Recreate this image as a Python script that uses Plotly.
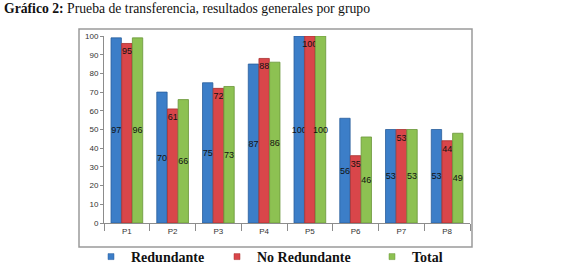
import plotly.graph_objects as go

categories = ["P1", "P2", "P3", "P4", "P5", "P6", "P7", "P8"]
redundante = [99, 70, 75, 85, 100, 56, 50, 50]
no_redundante = [96, 61, 72, 88, 100, 36, 50, 44]
total = [99, 66, 73, 86, 100, 46, 50, 48]
lbl_redundante = ["97", "70", "75", "87", "100", "56", "53", "53"]
lbl_no_redundante = ["95", "61", "72", "88", "100", "35", "53", "44"]
lbl_total = ["96", "66", "73", "86", "100", "46", "53", "49"]
y_ticks = list(range(0, 101, 10))

W, H = 565, 266
L, R, T, B = 104, 95, 36, 43
pw, ph = W - L - R, H - T - B
SERIF = "Liberation Serif"

def px2x(px):
    return (px - L) / pw

def py2y(py):
    return (H - B - py) / ph

fig = go.Figure()
specs = [
    ("Redundante", redundante, lbl_redundante, "#3c7ec8", "#2a5e9c", "middle", "legend"),
    ("No Redundante", no_redundante, lbl_no_redundante, "#d9464a", "#a8302f", "end", "legend2"),
    ("Total", total, lbl_total, "#8dc152", "#6a9638", "middle", "legend3"),
]
for name, vals, lbls, col, lcol, anchor, lg in specs:
    fig.add_trace(go.Bar(
        x=categories, y=vals, name=name, text=lbls,
        textposition="inside", insidetextanchor=anchor, textangle=0,
        constraintext="none", cliponaxis=False,
        insidetextfont=dict(family="Liberation Sans", size=9, color="#111111"),
        marker=dict(color=col, line=dict(color=lcol, width=0.8)),
        showlegend=False,
    ))
    # legend entry with a small square key, as in the reference
    fig.add_trace(go.Scatter(
        x=[None], y=[None], mode="markers", name=name,
        marker=dict(symbol="square", size=6, color=col, line=dict(color=lcol, width=0.5)),
        legend=lg, showlegend=True, hoverinfo="skip",
    ))

legend_common = dict(
    orientation="h", yanchor="middle", xanchor="left", y=py2y(257),
    bgcolor="rgba(0,0,0,0)", borderwidth=0,
    font=dict(family=SERIF, size=14, color="#111111", weight="bold"),
    itemwidth=30,
)

fig.update_layout(
    width=W, height=H,
    margin=dict(l=L, r=R, t=T, b=B, pad=0, autoexpand=False),
    paper_bgcolor="white", plot_bgcolor="white",
    barmode="group", bargap=0.3, bargroupgap=0.03,
    showlegend=True,
    legend=dict(x=px2x(91), **legend_common),
    legend2=dict(x=px2x(217), **legend_common),
    legend3=dict(x=px2x(372), **legend_common),
    xaxis=dict(
        showgrid=False, showline=True, linecolor="#8c8c8c", linewidth=1,
        ticks="outside", ticklen=7, tickcolor="#8c8c8c", tickson="boundaries",
        tickfont=dict(family="Liberation Sans", size=8, color="#333333"),
    ),
    yaxis=dict(
        range=[0, 100], tickvals=y_ticks, showgrid=False, zeroline=False,
        showline=True, linecolor="#8c8c8c", linewidth=1,
        ticks="outside", ticklen=3, tickcolor="#8c8c8c",
        tickfont=dict(family="Liberation Sans", size=8, color="#333333"),
    ),
    shapes=[dict(
        type="rect", xref="paper", yref="paper",
        x0=px2x(79), x1=px2x(472), y0=py2y(247), y1=py2y(29),
        line=dict(color="#9a9a9a", width=1.5), fillcolor="rgba(0,0,0,0)", layer="below",
    )],
    annotations=[dict(
        xref="paper", yref="paper", x=px2x(2), y=py2y(8),
        xanchor="left", yanchor="middle", showarrow=False,
        text="<b>Gráfico 2:</b> Prueba de transferencia, resultados generales por grupo",
        font=dict(family=SERIF, size=13.7, color="#111111"),
    )],
)

fig.write_html(
    "out.html",
    config={"displayModeBar": False},
    post_script="document.body.style.margin='0';document.body.style.overflow='hidden';",
)
